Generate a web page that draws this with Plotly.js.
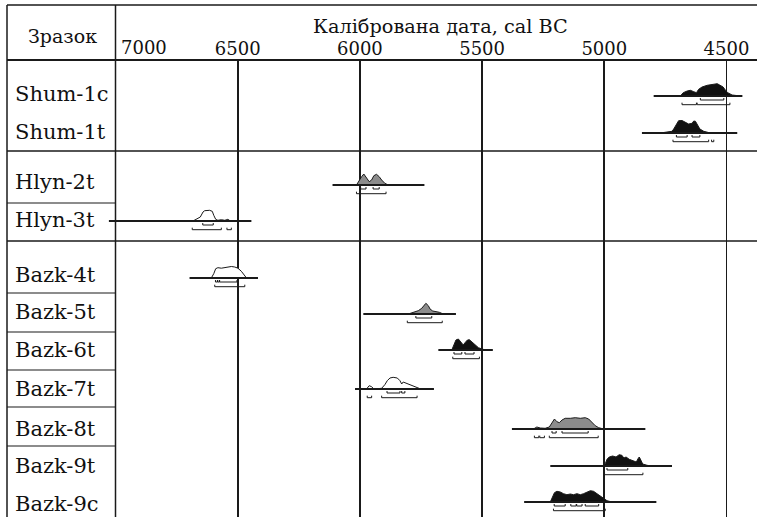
<!DOCTYPE html>
<html><head><meta charset="utf-8">
<script src="https://cdn.plot.ly/plotly-3.0.1.min.js"></script>
<style>html,body{margin:0;padding:0;background:#fff}#chart{width:757px;height:517px}</style>
</head><body><div id="chart"></div>
<script>
// ---------- DATA ----------
const samples = ['Shum-1c','Shum-1t','Hlyn-2t','Hlyn-3t','Bazk-4t','Bazk-5t','Bazk-6t','Bazk-7t','Bazk-8t','Bazk-9t','Bazk-9c'];
const tickYears = [6500, 6000, 5500, 5000, 4500];
const firstTick = 7000;

// probability distributions: calendar years (cal BC) and relative density
const shum1cYears = [4689, 4677, 4661, 4648, 4634, 4623, 4614, 4600, 4579, 4559, 4538, 4528, 4514, 4504, 4495, 4477, 4443];
const shum1cDens  = [0, 3.3, 5, 5.7, 4.3, 3.3, 6.7, 9, 10.7, 11.7, 12.3, 11, 9, 5.7, 3.3, 1, 0];
const shum1tYears = [4771, 4740, 4723, 4716, 4705, 4696, 4682, 4668, 4655, 4641, 4634, 4627, 4618, 4609, 4593, 4566];
const shum1tDens  = [0, 0.8, 1.7, 4, 9, 12.3, 12.5, 10.7, 9, 9.7, 12, 11.7, 7.3, 4, 1.7, 0];
const hlyn2tYears = [6014, 6003, 5993, 5984, 5973, 5962, 5952, 5943, 5932, 5921, 5911, 5898, 5884];
const hlyn2tDens  = [0, 5, 8.3, 11, 6.7, 3.3, 5, 9.3, 10.7, 8.3, 5, 1.7, 0];
const hlyn3tYears = [6683, 6667, 6653, 6642, 6635, 6615, 6604, 6598, 6590, 6581, 6567, 6553, 6540, 6530];
const hlyn3tDens  = [0, 2.3, 4, 9, 10.3, 10.7, 9.7, 5.7, 1.7, 0.7, 1.3, 0.7, 1.7, 0];
const bazk4tYears = [6608, 6598, 6590, 6581, 6567, 6553, 6540, 6526, 6512, 6499, 6485, 6475, 6464];
const bazk4tDens  = [0, 4.3, 9.3, 10.3, 9.8, 10.5, 10.6, 11.5, 11, 9.8, 6.7, 3.3, 0];
const bazk5tYears = [5802, 5782, 5761, 5747, 5738, 5730, 5720, 5713, 5702, 5689, 5675, 5659];
const bazk5tDens  = [0, 1.7, 3.3, 5.7, 9, 10.7, 8.3, 5, 3, 2.3, 1.7, 0];
const bazk6tYears = [5624, 5615, 5607, 5597, 5587, 5577, 5570, 5560, 5552, 5542, 5529, 5515, 5497, 5481];
const bazk6tDens  = [0, 5.7, 10, 11, 8.3, 5, 7.3, 10, 10.3, 8.3, 5, 2.3, 0.7, 0];
const bazk7tYears = [5973, 5962, 5952, 5943, 5911, 5898, 5888, 5877, 5864, 5847, 5836, 5829, 5823, 5812, 5798, 5782, 5768, 5751];
const bazk7tDens  = [0, 3.3, 2.3, 0, 0.7, 4.3, 8.3, 11, 11.7, 11, 8.3, 5, 7, 6, 5, 3.3, 1.7, 0];
const bazk8tYears = [5290, 5276, 5262, 5242, 5225, 5214, 5204, 5194, 5184, 5173, 5160, 5139, 5119, 5098, 5078, 5064, 5050, 5037, 5023, 5003];
const bazk8tDens  = [0, 2, 1, 0.7, 2, 5.7, 10, 7.3, 6.3, 9, 10.7, 10.7, 11.3, 10.7, 11.3, 10, 6.7, 3.3, 1.3, 0];
const bazk9tYears = [5010, 4996, 4989, 4980, 4966, 4952, 4939, 4928, 4920, 4911, 4898, 4880, 4869, 4862, 4857, 4850, 4843, 4825, 4805];
const bazk9tDens  = [0, 2.3, 6.7, 9, 10, 9, 11.3, 10.7, 8, 9, 6.7, 4.7, 4, 7.3, 9, 5.7, 2, 0.7, 0];
const bazk9cYears = [5221, 5212, 5204, 5194, 5180, 5167, 5153, 5139, 5126, 5112, 5098, 5085, 5071, 5057, 5044, 5030, 5016, 5003, 4989, 4969];
const bazk9cDens  = [0, 5, 9.3, 10.7, 10, 8.3, 7.3, 8, 7.3, 8.3, 7.3, 8.3, 10, 11.3, 10.7, 8.3, 6.7, 4, 1.3, 0];

// extent of each sample's base line (cal BC)
const baseSpans = [[4798,4435],[4846,4456],[6112,5736],[7027,6444],[6697,6417],[5986,5607],[5679,5456],[6020,5697],[5378,4832],[5221,4723],[5328,4787]];

// 68.2% (1 sigma) and 95.4% (2 sigma) ranges
const sigma1Ranges = [
  [[4607,4511]],
  [[4705,4661],[4641,4609]],
  [[5997,5975],[5946,5921]],
  [[6643,6600]],
  [[6591,6583],[6582,6575],[6574,6503]],
  [[5771,5706]],
  [[5615,5583],[5570,5533]],
  [[5889,5836],[5829,5816]],
  [[5214,5197],[5173,5066]],
  [[4989,4904]],
  [[5205,5160],[5137,5115],[5113,5091],[5078,5023]]
];
const sigma2Ranges = [
  [[4682,4623],[4620,4486]],
  [[4719,4573],[4561,4552]],
  [[6014,5893]],
  [[6686,6567],[6544,6526]],
  [[6594,6471]],
  [[5806,5663]],
  [[5620,5511]],
  [[5970,5952],[5911,5766]],
  [[5286,5268],[5264,5245],[5225,5025]],
  [[4999,4842]],
  [[5208,4996]]
];

// ---------- LAYOUT / STYLE ----------
const W = 757, H = 517;
const distYears = [shum1cYears, shum1tYears, hlyn2tYears, hlyn3tYears, bazk4tYears, bazk5tYears, bazk6tYears, bazk7tYears, bazk8tYears, bazk9tYears, bazk9cYears];
const distDens  = [shum1cDens, shum1tDens, hlyn2tDens, hlyn3tDens, bazk4tDens, bazk5tDens, bazk6tDens, bazk7tDens, bazk8tDens, bazk9tDens, bazk9cDens];
const fills = ['#111','#111','#8c8c8c','#fff','#fff','#8c8c8c','#111','#fff','#8c8c8c','#111','#111'];
const rowBase = [96, 133, 185, 221, 278, 314, 350, 389, 429, 466, 502];
const labelY  = [94, 132, 182, 220, 275, 312, 350, 389, 429, 466, 504];
const s1Off = 4, s2Off = 8.7, tickH = 2;
const ink = '#1a1a1a';
const FONT = 'DejaVu Serif';

const traces = [];
samples.forEach((s, i) => {
  const b = rowBase[i];
  const ys = distYears[i], ds = distDens[i];
  traces.push({
    type: 'scatter', mode: 'lines', hoverinfo: 'skip', showlegend: false,
    x: [ys[0], ...ys, ys[ys.length - 1]],
    y: [b, ...ds.map(d => b - d), b],
    fill: 'toself', fillcolor: fills[i],
    line: {color: ink, width: 1}
  });
  traces.push({
    type: 'scatter', mode: 'lines', hoverinfo: 'skip', showlegend: false,
    x: baseSpans[i], y: [b, b],
    line: {color: ink, width: 2}
  });
  const bx = [], by = [];
  [[sigma1Ranges[i], b + s1Off], [sigma2Ranges[i], b + s2Off]].forEach(([rs, yb]) => {
    rs.forEach(([a, c]) => {
      bx.push(a, a, c, c, null);
      by.push(yb - tickH, yb, yb, yb - tickH, null);
    });
  });
  traces.push({
    type: 'scatter', mode: 'lines', hoverinfo: 'skip', showlegend: false,
    x: bx, y: by, line: {color: ink, width: 1}
  });
});

const X = px => px / W, Y = py => 1 - py / H;
const shapes = [];
const hline = (py, x0, x1, w) => shapes.push({type: 'line', xref: 'paper', yref: 'paper', x0: X(x0), x1: X(x1), y0: Y(py), y1: Y(py), line: {color: ink, width: w}});
hline(5, 7, W, 1.5);
hline(60, 7, W, 2.2);
hline(151, 7, W, 1.6);
hline(241, 7, W, 1.6);
[203, 293, 332, 370, 407, 446].forEach(py => hline(py, 7, 116, 1.2));
shapes.push({type: 'line', xref: 'paper', yref: 'paper', x0: X(7), x1: X(7), y0: Y(5), y1: 0, line: {color: ink, width: 1.5}});
shapes.push({type: 'line', xref: 'x', yref: 'paper', x0: firstTick, x1: firstTick, y0: Y(5), y1: 0, line: {color: ink, width: 1.5}});

const annotations = samples.map((s, i) => ({
  text: s, xref: 'paper', yref: 'paper', x: X(13), y: Y(labelY[i]),
  xanchor: 'left', yanchor: 'middle', showarrow: false,
  font: {family: FONT, size: 21, color: '#111'}
}));
annotations.push({text: 'Зразок', xref: 'paper', yref: 'paper', x: X(62), y: Y(36), xanchor: 'center', yanchor: 'middle', showarrow: false, font: {family: FONT, size: 19, color: '#111'}});
annotations.push({text: 'Калібрована дата, cal BC', xref: 'paper', yref: 'paper', x: X(440), y: Y(26), xanchor: 'center', yanchor: 'middle', showarrow: false, font: {family: FONT, size: 19.3, color: '#111'}});
annotations.push({text: String(firstTick), xref: 'paper', yref: 'paper', x: X(119), y: Y(47), xanchor: 'left', yanchor: 'middle', showarrow: false, font: {family: FONT, size: 18, color: '#111'}});

// pixel-per-year scale derived from grid: 500 years = 122.2 px, 7000 at x=115.5
const pxPerYear = 122.2 / 500;
const xLeft = firstTick + 115.5 / pxPerYear;
const xRight = firstTick - (W - 115.5) / pxPerYear;

const layout = {
  width: W, height: H,
  margin: {l: 0, r: 0, t: 0, b: 0},
  paper_bgcolor: '#fff', plot_bgcolor: '#fff',
  showlegend: false,
  xaxis: {
    domain: [0, 1], range: [xLeft, xRight], side: 'top',
    tickmode: 'array', tickvals: tickYears, ticktext: tickYears.map(String),
    showgrid: true, gridcolor: ink, gridwidth: 1.6,
    zeroline: false, showline: false, ticks: '',
    tickfont: {family: FONT, size: 18, color: '#111'},
    fixedrange: true
  },
  yaxis: {
    domain: [0, 1 - 60 / H], range: [H, 60], visible: false,
    showgrid: false, zeroline: false, fixedrange: true
  },
  shapes, annotations
};

Plotly.newPlot('chart', traces, layout, {staticPlot: true});
</script>
</body></html>
